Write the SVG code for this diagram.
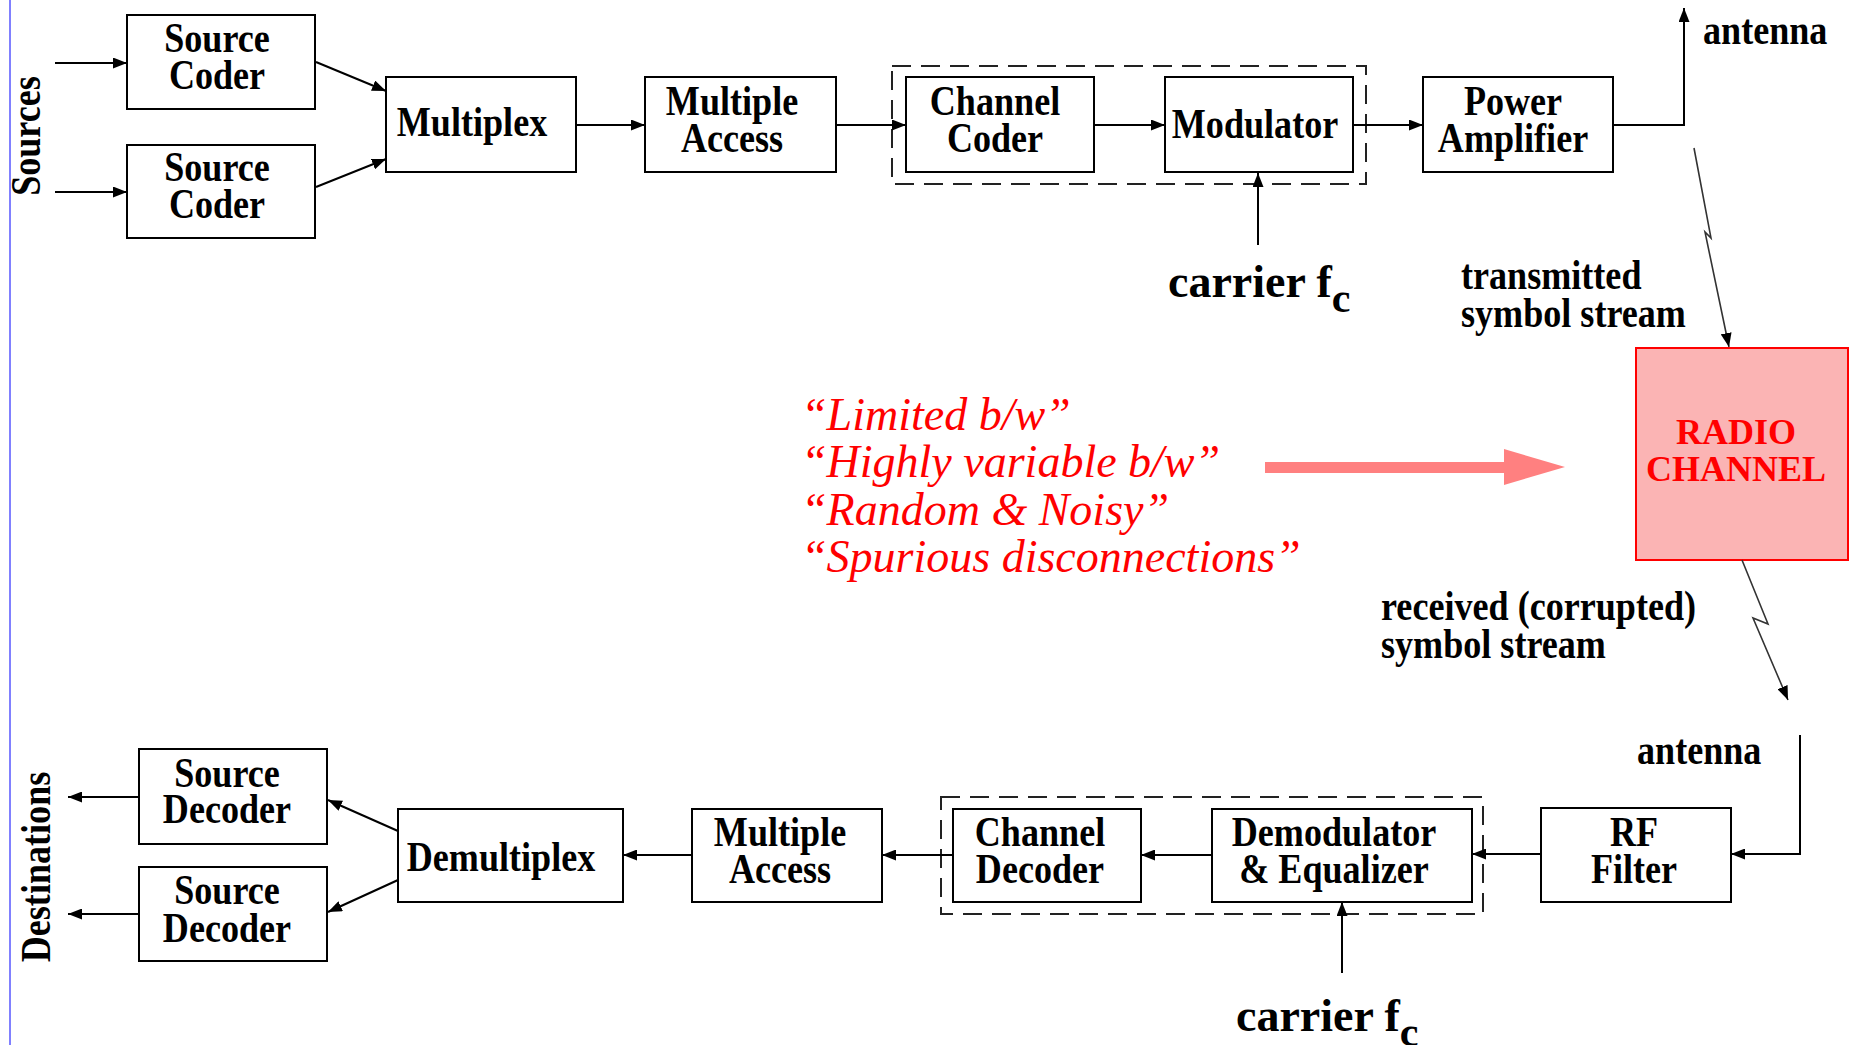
<svg xmlns="http://www.w3.org/2000/svg" width="1850" height="1045" viewBox="0 0 1850 1045">
<style>
.box{fill:#fff;stroke:#000;stroke-width:2}
.grp{fill:none;stroke:#222;stroke-width:2;stroke-dasharray:19 10}
.lbl{font-family:"Liberation Serif","Times New Roman",serif;font-weight:bold;font-size:43px;fill:#000;text-anchor:middle}
.lbs{font-family:"Liberation Serif","Times New Roman",serif;font-weight:bold;font-size:43px;fill:#000}
.car{font-family:"Liberation Serif","Times New Roman",serif;font-weight:bold;font-size:46px;fill:#000}
.red{font-family:"Liberation Serif","Times New Roman",serif;font-style:italic;font-size:46px;fill:#ff0000}
.rad{font-family:"Liberation Serif","Times New Roman",serif;font-weight:bold;font-size:36px;fill:#ff0000;text-anchor:middle}
.con{fill:none;stroke:#000;stroke-width:2;marker-end:url(#ah)}
.bolt{fill:none;stroke:#333;stroke-width:1.6;marker-end:url(#ah)}
</style>
<defs>
<marker id="ah" viewBox="0 0 14 11" refX="14" refY="5.5" markerWidth="14" markerHeight="11" orient="auto" markerUnits="userSpaceOnUse"><path d="M0,0 L14,5.5 L0,11 z" fill="#000"/></marker>
</defs>
<rect x="0" y="0" width="1850" height="1045" fill="#fff"/>
<line x1="10" y1="0" x2="10" y2="1045" stroke="#8080ff" stroke-width="2"/>

<g id="sources-label"><text class="lbs" text-anchor="middle" transform="translate(40,136) rotate(-90) scale(0.84,1)">Sources</text></g>
<g id="destinations-label"><text class="lbs" text-anchor="middle" transform="translate(50,867) rotate(-90) scale(0.84,1)">Destinations</text></g>

<g id="groups">
<rect class="grp" x="892" y="66" width="474" height="118"/>
<rect class="grp" x="941" y="797" width="542" height="117"/>
</g>

<g id="source-coder-1"><rect class="box" x="127" y="15" width="188" height="94"/>
<text class="lbl" transform="translate(217,0) scale(0.84,1)"><tspan x="0" y="52">Source</tspan><tspan x="0" y="89">Coder</tspan></text></g>
<g id="source-coder-2"><rect class="box" x="127" y="145" width="188" height="93"/>
<text class="lbl" transform="translate(217,0) scale(0.84,1)"><tspan x="0" y="181">Source</tspan><tspan x="0" y="218">Coder</tspan></text></g>
<g id="multiplex"><rect class="box" x="386" y="77" width="190" height="95"/>
<text class="lbl" transform="translate(472,0) scale(0.84,1)"><tspan x="0" y="136">Multiplex</tspan></text></g>
<g id="multiple-access-tx"><rect class="box" x="645" y="77" width="191" height="95"/>
<text class="lbl" transform="translate(732,0) scale(0.84,1)"><tspan x="0" y="115">Multiple</tspan><tspan x="0" y="152">Access</tspan></text></g>
<g id="channel-coder"><rect class="box" x="906" y="77" width="188" height="95"/>
<text class="lbl" transform="translate(995,0) scale(0.84,1)"><tspan x="0" y="115">Channel</tspan><tspan x="0" y="152">Coder</tspan></text></g>
<g id="modulator"><rect class="box" x="1165" y="77" width="188" height="95"/>
<text class="lbl" transform="translate(1255,0) scale(0.84,1)"><tspan x="0" y="138">Modulator</tspan></text></g>
<g id="power-amplifier"><rect class="box" x="1423" y="77" width="190" height="95"/>
<text class="lbl" transform="translate(1513,0) scale(0.84,1)"><tspan x="0" y="115">Power</tspan><tspan x="0" y="152">Amplifier</tspan></text></g>

<g id="radio-channel"><rect x="1636" y="348" width="212" height="212" fill="#fbb4b4" stroke="#ff0000" stroke-width="2"/>
<text class="rad"><tspan x="1736" y="444">RADIO</tspan><tspan x="1736" y="481">CHANNEL</tspan></text></g>

<g id="rf-filter"><rect class="box" x="1541" y="808" width="190" height="94"/>
<text class="lbl" transform="translate(1634,0) scale(0.84,1)"><tspan x="0" y="846">RF</tspan><tspan x="0" y="883">Filter</tspan></text></g>
<g id="demodulator"><rect class="box" x="1212" y="809" width="260" height="93"/>
<text class="lbl" transform="translate(1334,0) scale(0.84,1)"><tspan x="0" y="846">Demodulator</tspan><tspan x="0" y="883">&amp; Equalizer</tspan></text></g>
<g id="channel-decoder"><rect class="box" x="953" y="809" width="188" height="93"/>
<text class="lbl" transform="translate(1040,0) scale(0.84,1)"><tspan x="0" y="846">Channel</tspan><tspan x="0" y="883">Decoder</tspan></text></g>
<g id="multiple-access-rx"><rect class="box" x="692" y="809" width="190" height="93"/>
<text class="lbl" transform="translate(780,0) scale(0.84,1)"><tspan x="0" y="846">Multiple</tspan><tspan x="0" y="883">Access</tspan></text></g>
<g id="demultiplex"><rect class="box" x="398" y="809" width="225" height="93"/>
<text class="lbl" transform="translate(501,0) scale(0.84,1)"><tspan x="0" y="871">Demultiplex</tspan></text></g>
<g id="source-decoder-1"><rect class="box" x="139" y="749" width="188" height="95"/>
<text class="lbl" transform="translate(227,0) scale(0.84,1)"><tspan x="0" y="787">Source</tspan><tspan x="0" y="823">Decoder</tspan></text></g>
<g id="source-decoder-2"><rect class="box" x="139" y="867" width="188" height="94"/>
<text class="lbl" transform="translate(227,0) scale(0.84,1)"><tspan x="0" y="904">Source</tspan><tspan x="0" y="942">Decoder</tspan></text></g>

<g id="labels">
<text class="lbs" transform="translate(1703,44) scale(0.84,1)">antenna</text>
<text class="lbs" transform="translate(1461,0) scale(0.84,1)"><tspan x="0" y="289">transmitted</tspan><tspan x="0" y="327">symbol stream</tspan></text>
<text class="lbs" transform="translate(1381,0) scale(0.84,1)"><tspan x="0" y="620">received (corrupted)</tspan><tspan x="0" y="658">symbol stream</tspan></text>
<text class="lbs" transform="translate(1637,764) scale(0.84,1)">antenna</text>
<text class="car" x="1168" y="297">carrier f<tspan font-size="42" dy="15">c</tspan></text>
<text class="car" x="1236" y="1031">carrier f<tspan font-size="42" dy="15">c</tspan></text>
<text class="red"><tspan x="801" y="430">“Limited b/w”</tspan><tspan x="801" y="477">“Highly variable b/w”</tspan><tspan x="801" y="525">“Random &amp; Noisy”</tspan><tspan x="801" y="572">“Spurious disconnections”</tspan></text>
</g>

<g id="connectors">
<line class="con" x1="55" y1="63" x2="127" y2="63"/>
<line class="con" x1="55" y1="192" x2="127" y2="192"/>
<line class="con" x1="316" y1="62" x2="386" y2="91"/>
<line class="con" x1="316" y1="187" x2="386" y2="159"/>
<line class="con" x1="576" y1="125" x2="645" y2="125"/>
<line class="con" x1="836" y1="125" x2="906" y2="125"/>
<line class="con" x1="1094" y1="125" x2="1165" y2="125"/>
<line class="con" x1="1353" y1="125" x2="1423" y2="125"/>
<polyline class="con" points="1613,125 1684,125 1684,8"/>
<line class="con" x1="1258" y1="245" x2="1258" y2="173"/>
<polyline class="bolt" points="1694,148 1711,238 1705,232 1729,347"/>
<polyline class="bolt" points="1742,560 1768,624 1753,618 1788,700"/>
<polyline class="con" points="1800,735 1800,854 1731,854"/>
<line class="con" x1="1541" y1="854" x2="1472" y2="854"/>
<line class="con" x1="1212" y1="855" x2="1141" y2="855"/>
<line class="con" x1="953" y1="855" x2="882" y2="855"/>
<line class="con" x1="692" y1="855" x2="623" y2="855"/>
<line class="con" x1="398" y1="831" x2="328" y2="800"/>
<line class="con" x1="398" y1="880" x2="328" y2="912"/>
<line class="con" x1="139" y1="797" x2="68" y2="797"/>
<line class="con" x1="139" y1="914" x2="68" y2="914"/>
<line class="con" x1="1342" y1="973" x2="1342" y2="902"/>
<g id="pink-arrow">
<rect x="1265" y="462" width="240" height="11" fill="#ff8080"/>
<path d="M1504,449 L1565,467 L1504,485 z" fill="#ff8080"/>
</g>
</g>
</svg>
